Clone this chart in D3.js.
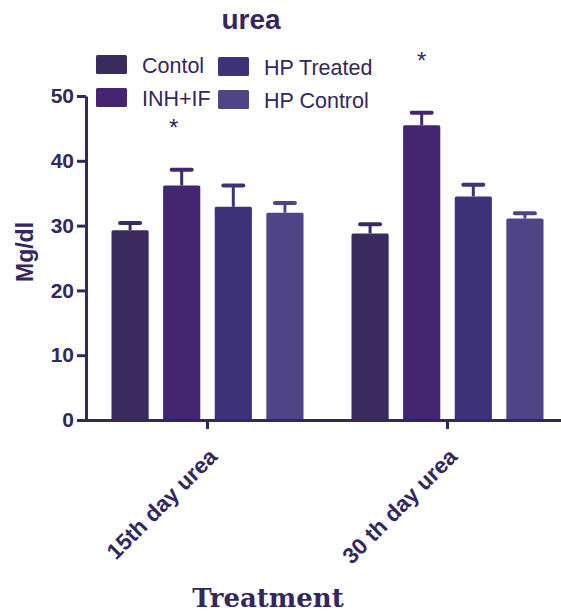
<!DOCTYPE html>
<html lang="en">
<head>
  <meta charset="UTF-8">
  <title>urea</title>
  <script src="https://d3js.org/d3.v7.min.js"></script>
  <style>
    body { margin: 0; background: #fff; }
    svg { display: block; font-family: Arial, "Liberation Sans", sans-serif; }
  </style>
</head>
<body>
  <svg width="561" height="614"></svg>

  <script>
    const categories = ['15th day urea', '30 th day urea'];
    const series = ['Contol', 'INH+IF', 'HP Treated', 'HP Control'];
    const means = [
      [29.3, 36.2, 32.9, 32.0],
      [28.8, 45.5, 34.5, 31.1]
    ];
    const errors = [
      [1.1, 2.4, 3.3, 1.5],
      [1.4, 1.9, 1.8, 0.8]
    ];
    // significance marks: [category index, series index, height in Mg/dl]
    const stars = [[0, 1, 43.8], [1, 1, 54.2]];
    const yTicks = [0, 10, 20, 30, 40, 50];

    const colors = ['#3b2a5e', '#432570', '#3e3279', '#4e4486'];
    const ink = '#35265e';

    const svg = d3.select('svg');
    const y = d3.scaleLinear().domain([0, 50]).range([420, 96]);
    const x0 = d3.scaleBand().domain(categories).range([87.5, 567.5]).padding(0);
    const x1 = d3.scaleBand().domain(series).range([24, 216]).paddingInner(0.28);
    const color = d3.scaleOrdinal().domain(series).range(colors);

    // title
    svg.append('text').attr('x', 251).attr('y', 29)
      .attr('text-anchor', 'middle').attr('font-size', 28).attr('font-weight', 'bold')
      .attr('fill', ink).text('urea');

    // bars
    const groups = svg.append('g').selectAll('g')
      .data(categories).join('g')
      .attr('transform', d => `translate(${x0(d)},0)`);

    groups.each(function (cat, ci) {
      const g = d3.select(this);
      const rows = series.map((s, si) => ({ s, v: means[ci][si], e: errors[ci][si] }));

      // error bars (upper only)
      g.selectAll('line.err').data(rows).join('line').attr('class', 'err')
        .attr('x1', d => x1(d.s) + x1.bandwidth() / 2)
        .attr('x2', d => x1(d.s) + x1.bandwidth() / 2)
        .attr('y1', d => y(d.v)).attr('y2', d => y(d.v + d.e))
        .attr('stroke', d => color(d.s)).attr('stroke-width', 3);
      g.selectAll('line.cap').data(rows).join('line').attr('class', 'cap')
        .attr('x1', d => x1(d.s) + x1.bandwidth() / 2 - 10)
        .attr('x2', d => x1(d.s) + x1.bandwidth() / 2 + 10)
        .attr('y1', d => y(d.v + d.e)).attr('y2', d => y(d.v + d.e))
        .attr('stroke', d => color(d.s)).attr('stroke-width', 4)
        .attr('stroke-linecap', 'round');

      g.selectAll('rect').data(rows).join('rect')
        .attr('x', d => x1(d.s)).attr('width', x1.bandwidth())
        .attr('y', d => y(d.v)).attr('height', d => y(0) - y(d.v))
        .attr('rx', 1.5)
        .attr('fill', d => color(d.s));
    });

    // asterisks
    svg.append('g').selectAll('text').data(stars).join('text')
      .attr('x', d => x0(categories[d[0]]) + x1(series[d[1]]) + x1.bandwidth() / 2 - (d[0] === 0 ? 8 : 0))
      .attr('y', d => y(d[2]))
      .attr('text-anchor', 'middle').attr('font-size', 24)
      .attr('fill', ink).text('*');

    // y axis
    const yAxis = svg.append('g').attr('transform', 'translate(86,0)')
      .call(d3.axisLeft(y).tickValues(yTicks).tickSize(9).tickPadding(3).tickSizeOuter(0));
    yAxis.select('.domain').attr('stroke', ink).attr('stroke-width', 3);
    yAxis.selectAll('.tick line').attr('stroke', ink).attr('stroke-width', 3);
    yAxis.selectAll('.tick text').attr('fill', ink).attr('font-size', 21)
      .attr('font-weight', 'bold').attr('font-family', 'Arial, "Liberation Sans", sans-serif');

    // x axis
    const xAxis = svg.append('g').attr('transform', 'translate(0,420)')
      .call(d3.axisBottom(x0).tickSize(9).tickSizeOuter(0).tickFormat(() => ''));
    xAxis.select('.domain').attr('stroke', ink).attr('stroke-width', 3).attr('d', 'M84.5,0.5H561');
    xAxis.selectAll('.tick line').attr('stroke', ink).attr('stroke-width', 3);
    xAxis.selectAll('.tick').append('text')
      .attr('transform', 'translate(0,27) rotate(-45)')
      .attr('text-anchor', 'end').attr('fill', ink).attr('font-size', 22.5)
      .attr('font-weight', 'bold').attr('font-family', 'Arial, "Liberation Sans", sans-serif')
      .attr('dy', '0.7em')
      .text(d => d);

    // axis titles
    svg.append('text').attr('transform', 'translate(33,252) rotate(-90)')
      .attr('text-anchor', 'middle').attr('font-size', 23).attr('font-weight', 'bold')
      .attr('fill', ink).text('Mg/dl');
    svg.append('text').attr('x', 268).attr('y', 607)
      .attr('text-anchor', 'middle').attr('font-size', 26).attr('font-weight', 'bold')
      .attr('font-family', '"DejaVu Serif", "Liberation Serif", serif')
      .attr('fill', ink).text('Treatment');

    // legend (two columns, column-major)
    const legend = svg.append('g').selectAll('g').data(series).join('g')
      .attr('transform', (d, i) => `translate(${i < 2 ? 96 : 218},${(i % 2 === 0 ? 55 : 88) + (i < 2 ? 0 : 2)})`);
    legend.append('rect').attr('width', 31).attr('height', 19).attr('rx', 1.5)
      .attr('fill', d => color(d));
    legend.append('text').attr('x', 46).attr('y', 18)
      .attr('font-size', 21.5).attr('fill', ink).text(d => d);
  </script>
</body>
</html>
